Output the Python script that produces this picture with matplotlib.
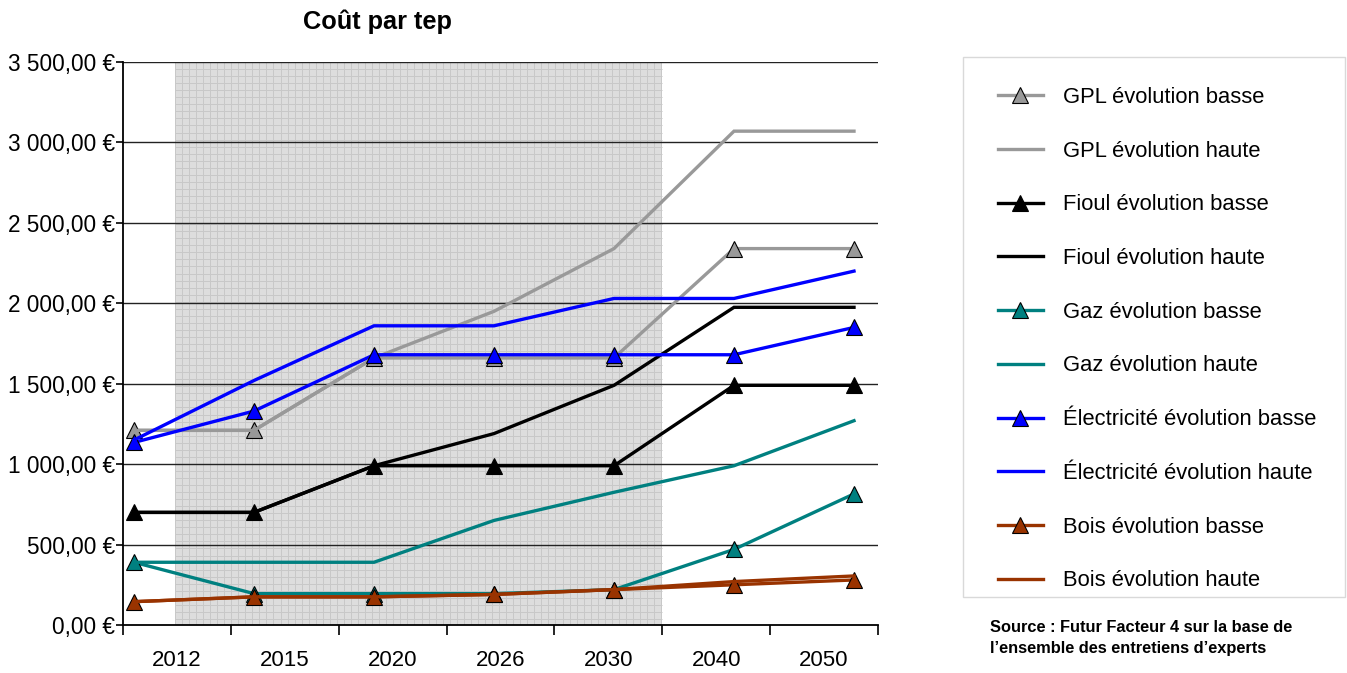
import matplotlib
matplotlib.use("Agg")
import matplotlib.pyplot as plt
from matplotlib.lines import Line2D
from matplotlib.patches import Rectangle
import numpy as np

plt.rcParams['font.family'] = ['Liberation Sans', 'DejaVu Sans']

# Categories and tick labels
years = ["2012", "2015", "2020", "2026", "2030", "2040", "2050"]
y_ticks = [0, 500, 1000, 1500, 2000, 2500, 3000, 3500]

# Cost per toe (EUR), low / high scenarios
gpl_basse = [1210, 1210, 1660, 1660, 1660, 2340, 2340]
gpl_haute = [1210, 1210, 1660, 1950, 2340, 3070, 3070]
fioul_basse = [700, 700, 990, 990, 990, 1490, 1490]
fioul_haute = [700, 700, 990, 1190, 1490, 1975, 1975]
gaz_basse = [390, 195, 195, 195, 220, 470, 815]
gaz_haute = [390, 390, 390, 650, 825, 990, 1270]
elec_basse = [1135, 1330, 1680, 1680, 1680, 1680, 1850]
elec_haute = [1150, 1520, 1860, 1860, 2030, 2030, 2200]
bois_basse = [145, 175, 175, 190, 220, 250, 280]
bois_haute = [145, 175, 175, 190, 220, 270, 305]

series = [
    ("GPL évolution basse", gpl_basse, "#999999", True),
    ("GPL évolution haute", gpl_haute, "#999999", False),
    ("Fioul évolution basse", fioul_basse, "#000000", True),
    ("Fioul évolution haute", fioul_haute, "#000000", False),
    ("Gaz évolution basse", gaz_basse, "#008080", True),
    ("Gaz évolution haute", gaz_haute, "#008080", False),
    ("Électricité évolution basse", elec_basse, "#0000FF", True),
    ("Électricité évolution haute", elec_haute, "#0000FF", False),
    ("Bois évolution basse", bois_basse, "#993300", True),
    ("Bois évolution haute", bois_haute, "#993300", False),
]

W, H, DPI = 1347, 673, 100
fig = plt.figure(figsize=(W / DPI, H / DPI), dpi=DPI)
fig.patch.set_facecolor("white")

left, right, top, bottom = 123, 878, 62, 625
ax = fig.add_axes([left / W, 1 - bottom / H, (right - left) / W, (bottom - top) / H])

n = len(years)
ax.set_xlim(0, n)
ax.set_ylim(0, 3500)

# Shaded period with a fine grid pattern
x0, x1 = 0.48, 5.0
ax.add_patch(Rectangle((x0, 0), x1 - x0, 3500, facecolor="#DDDDDD",
                       edgecolor="none", zorder=0))
px_per_x = (right - left) / n
px_per_y = (bottom - top) / 3500
cell = 7.05
vx = np.arange(x0, x1, cell / px_per_x)
hy = np.arange(3500, 0, -cell / px_per_y)
ax.vlines(vx, 0, 3500, colors="#C8C8C8", linewidth=0.72, zorder=0.5, snap=True)
ax.hlines(hy, x0, x1, colors="#C8C8C8", linewidth=0.72, zorder=0.5, snap=True)

# Horizontal grid
for v in y_ticks[1:]:
    ax.axhline(v, color="#222222", linewidth=1.0, zorder=1)

ax.set_yticks(y_ticks)
ax.set_yticklabels([f"{v:,.2f}".replace(",", " ").replace(".", ",") + " €"
                    for v in y_ticks])
ax.set_xticks(range(n + 1))
ax.set_xticklabels([])
ax.set_xticks([i + 0.5 for i in range(n)], minor=True)
ax.set_xticklabels(years, minor=True)
ax.tick_params(axis="x", which="major", length=7, width=1.2, color="black")
ax.tick_params(axis="x", which="minor", length=0, pad=18, labelsize=16)
ax.tick_params(axis="y", length=5, width=1.2, labelsize=16.3, pad=0.5)
for s in ["top", "right"]:
    ax.spines[s].set_visible(False)
for s in ["left", "bottom"]:
    ax.spines[s].set_linewidth(1.3)
    ax.spines[s].set_zorder(3)

# Series axis (points offset from category centres)
ax2 = ax.twiny()
ax2.set_xlim(-11 / 120, 6.2)
ax2.set_ylim(0, 3500)
ax2.axis("off")
xs = np.arange(n)
handles = []
for label, vals, col, marked in series:
    kw = dict(color=col, linewidth=2.4, solid_joinstyle="miter")
    if marked:
        kw.update(marker="^", markersize=12, markerfacecolor=col,
                  markeredgecolor="black", markeredgewidth=0.8)
    ax2.plot(xs, vals, **kw)
    handles.append(Line2D([], [], label=label, **kw))

fig.text(377 / W, 1 - 22 / H, "Coût par tep", ha="center", va="center",
         fontsize=18.3, fontweight="bold")

# Legend box
fig.patches.append(Rectangle((963 / W, 1 - 597 / H), (1345 - 963) / W,
                             (597 - 57) / H, transform=fig.transFigure,
                             facecolor="white", edgecolor="#D9D9D9",
                             linewidth=1.0, zorder=0))
leg = fig.legend(handles=handles, loc="upper left",
                 bbox_to_anchor=(998 / W, 1 - 87 / H), frameon=False,
                 fontsize=15.8, labelspacing=1.49, handlelength=2.05,
                 handletextpad=0.9, borderpad=0, borderaxespad=0)

fig.text(990 / W, 1 - 628 / H, "Source : Futur Facteur 4 sur la base de",
         fontsize=11.8, fontweight="bold", va="center")
fig.text(990 / W, 1 - 648 / H, "l’ensemble des entretiens d’experts",
         fontsize=11.8, fontweight="bold", va="center")

fig.savefig("out.png", dpi=DPI)
